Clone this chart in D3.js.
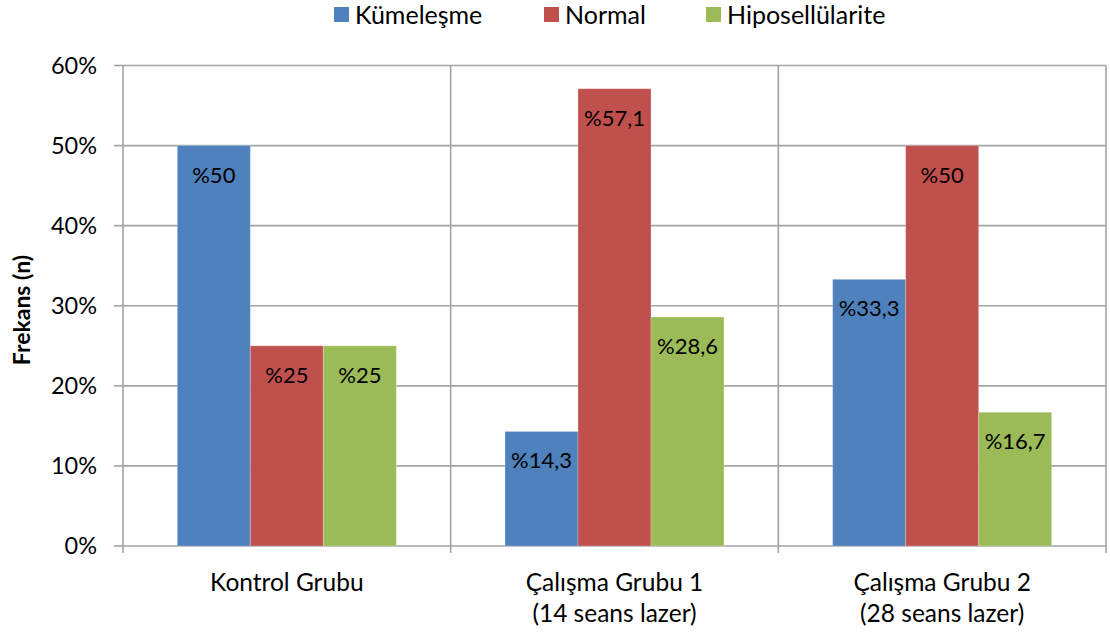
<!DOCTYPE html>
<html><head><meta charset="utf-8">
<script src="https://cdn.jsdelivr.net/npm/d3@7"></script>
<style>body{margin:0;background:#fff}svg{display:block}text{font-family:Lato,"Open Sans",sans-serif;fill:#000}</style>
</head><body>
<svg id="c" width="1110" height="634"></svg>
<script>
const categories = ["Kontrol Grubu", "Çalışma Grubu 1\n(14 seans lazer)", "Çalışma Grubu 2\n(28 seans lazer)"];
const seriesNames = ["Kümeleşme", "Normal", "Hiposellülarite"];
const kumelesme = [50, 14.3, 33.3];
const normal = [25, 57.1, 50];
const hiposellularite = [25, 28.6, 16.7];
const labelsKumelesme = ["%50", "%14,3", "%33,3"];
const labelsNormal = ["%25", "%57,1", "%50"];
const labelsHipo = ["%25", "%28,6", "%16,7"];
const yTicks = [0, 10, 20, 30, 40, 50, 60];
const colors = ["#4F81BD", "#C0504D", "#9BBB59"];

const seriesVals = [kumelesme, normal, hiposellularite];
const seriesLabels = [labelsKumelesme, labelsNormal, labelsHipo];

const svg = d3.select("#c");
const L = 123, R = 1106, T = 65.5, B = 546;
const x = d3.scaleBand().domain(categories).range([L, R]).padding(0);
const xs = d3.scaleBand().domain(seriesNames).range([0, x.bandwidth()]).paddingInner(0).paddingOuter(0.744);
const y = d3.scaleLinear().domain([0, 60]).range([B, T]);
const grid = "#a3a3a3";

// horizontal gridlines
svg.append("g").selectAll("line").data(yTicks).join("line")
  .attr("x1", L).attr("x2", R).attr("y1", d => y(d)).attr("y2", d => y(d))
  .attr("stroke", grid).attr("stroke-width", 1.6);

// vertical separators (category boundaries)
const bounds = categories.map(c => x(c)).concat([R]);
svg.append("g").selectAll("line").data(bounds).join("line")
  .attr("x1", d => d).attr("x2", d => d).attr("y1", T).attr("y2", B + 7)
  .attr("stroke", grid).attr("stroke-width", 1.6);

// y-axis ticks
svg.append("g").selectAll("line").data(yTicks).join("line")
  .attr("x1", L - 9).attr("x2", L).attr("y1", d => y(d)).attr("y2", d => y(d))
  .attr("stroke", grid).attr("stroke-width", 1.6);

svg.append("g").selectAll("text").data(yTicks).join("text")
  .attr("x", 97).attr("y", d => y(d)).attr("dy", "0.36em")
  .attr("text-anchor", "end").attr("font-size", 23.5)
  .text(d => d + "%");

// bars
seriesNames.forEach((s, si) => {
  const g = svg.append("g");
  g.selectAll("rect").data(categories).join("rect")
    .attr("x", c => x(c) + xs(s)).attr("width", xs.bandwidth())
    .attr("y", (c, i) => y(seriesVals[si][i]))
    .attr("height", (c, i) => B - y(seriesVals[si][i]))
    .attr("fill", colors[si])
    .attr("stroke", "rgba(255,255,255,0.25)").attr("stroke-width", 1);
  g.selectAll("text").data(categories).join("text")
    .attr("x", c => x(c) + xs(s) + xs.bandwidth() / 2)
    .attr("y", (c, i) => y(seriesVals[si][i]) + 29)
    .attr("dy", "0.36em").attr("text-anchor", "middle").attr("font-size", 22)
    .text((c, i) => seriesLabels[si][i]);
});

// category labels
categories.forEach(c => {
  const lines = c.split("\n");
  const t = svg.append("text").attr("text-anchor", "middle").attr("font-size", 24.5);
  lines.forEach((ln, i) => {
    t.append("tspan").attr("x", x(c) + x.bandwidth() / 2).attr("y", 582 + i * 31).attr("dy", "0.36em").text(ln);
  });
});

// y title
svg.append("text").attr("transform", "translate(22,310) rotate(-90)")
  .attr("text-anchor", "middle").attr("dy", "0.36em")
  .attr("font-size", 23).attr("font-weight", "bold").text("Frekans (n)");

// legend
const legX = [334, 544, 706];
seriesNames.forEach((s, i) => {
  svg.append("rect").attr("x", legX[i]).attr("y", 7).attr("width", 15).attr("height", 15).attr("fill", colors[i]);
  svg.append("text").attr("x", legX[i] + 21).attr("y", 15).attr("dy", "0.36em").attr("font-size", 25).text(s);
});
</script>
</body></html>
